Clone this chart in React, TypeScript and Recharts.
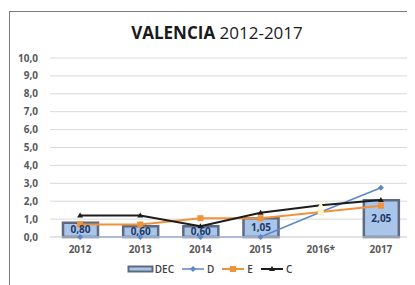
import React from "react";
import {
  ComposedChart,
  Bar,
  Line,
  XAxis,
  YAxis,
  CartesianGrid,
  Legend,
  LabelList,
} from "recharts";

const years = ["2012", "2013", "2014", "2015", "2016*", "2017"];
const decValues = [0.8, 0.6, 0.6, 1.05, null, 2.05];
const dValues = [0, 0, 0, 0, 1.4, 2.75];
const eValues = [0.7, 0.7, 1.05, 1.05, 1.4, 1.75];
const cValues = [1.2, 1.2, 0.6, 1.35, 1.77, 2.07];
const yTicks = [0, 1, 2, 3, 4, 5, 6, 7, 8, 9, 10];

const data = years.map((year, i) => ({
  year,
  DEC: decValues[i],
  D: dValues[i],
  E: eValues[i],
  C: cValues[i],
}));

const FONT = "'Open Sans', sans-serif";
const BLUE = "#5b87c8";
const ORANGE = "#f0923a";
const BLACK = "#1c1c1c";
const PALE = "#fbf3c9";

const comma = (v: number, d: number) => v.toFixed(d).replace(".", ",");

const isEstimate = (payload: any) => payload && payload.year === "2016*";

const diamond = (props: any) => {
  const { cx, cy, payload, index } = props;
  if (cx == null || cy == null) return <g key={index} />;
  const fill = isEstimate(payload) ? PALE : BLUE;
  return (
    <path
      key={index}
      d={`M${cx},${cy - 3}L${cx + 3},${cy}L${cx},${cy + 3}L${cx - 3},${cy}Z`}
      fill={fill}
    />
  );
};

const square = (props: any) => {
  const { cx, cy, payload, index } = props;
  if (cx == null || cy == null) return <g key={index} />;
  const fill = isEstimate(payload) ? PALE : ORANGE;
  return <rect key={index} x={cx - 3} y={cy - 3} width={6} height={6} fill={fill} />;
};

const triangle = (props: any) => {
  const { cx, cy, payload, index } = props;
  if (cx == null || cy == null) return <g key={index} />;
  const fill = isEstimate(payload) ? PALE : BLACK;
  return (
    <path
      key={index}
      d={`M${cx},${cy - 3}L${cx + 3},${cy + 2}L${cx - 3},${cy + 2}Z`}
      fill={fill}
    />
  );
};

const LegendContent = () => {
  const text = { fontSize: 10, color: "#404040", fontFamily: FONT, fontWeight: 600 };
  return (
    <div style={{ height: 24, paddingTop: 5, boxSizing: "border-box" }}>
      <div style={{ display: "flex", justifyContent: "center", alignItems: "center", height: 14 }}>
        <svg width={27} height={10}>
          <rect x={1.5} y={2.5} width={24} height={5} fill="#a9c5ea" stroke="#5e6a80" strokeWidth={2} />
        </svg>
        <span style={{ ...text, marginLeft: 1, marginRight: 8 }}>DEC</span>
        <svg width={22} height={10}>
          <line x1={0} y1={5} x2={22} y2={5} stroke={BLUE} strokeWidth={1.5} />
          <path d="M11,2L14,5L11,8L8,5Z" fill={BLUE} />
        </svg>
        <span style={{ ...text, marginLeft: 3, marginRight: 8 }}>D</span>
        <svg width={22} height={10}>
          <line x1={0} y1={5} x2={22} y2={5} stroke={ORANGE} strokeWidth={2} />
          <rect x={8} y={2} width={6} height={6} fill={ORANGE} />
        </svg>
        <span style={{ ...text, marginLeft: 3, marginRight: 8 }}>E</span>
        <svg width={22} height={10}>
          <line x1={0} y1={5} x2={22} y2={5} stroke={BLACK} strokeWidth={2} />
          <path d="M11,2L14,7L8,7Z" fill={BLACK} />
        </svg>
        <span style={{ ...text, marginLeft: 3 }}>C</span>
      </div>
    </div>
  );
};

export default function App() {
  return (
    <div style={{ position: "relative", width: 407, height: 277, overflow: "hidden" }}>
      <div
        style={{
          position: "absolute",
          left: 1,
          top: 3,
          width: 420,
          height: 300,
          borderTop: "1.5px solid #7a7a7a",
          borderLeft: "1.5px solid #7a7a7a",
        }}
      />
      <div
        style={{
          position: "absolute",
          left: 0,
          top: 14,
          width: 418,
          textAlign: "center",
          fontFamily: FONT,
          fontSize: 17,
          color: "#1a1a1a",
          lineHeight: "22px",
        }}
      >
        <span style={{ fontWeight: 700 }}>VALENCIA</span> 2012-2017
      </div>
      <div style={{ position: "absolute", left: 0, top: 0 }}>
        <ComposedChart
          width={407}
          height={277}
          data={data}
          margin={{ top: 50, right: 4, bottom: 4, left: 0 }}
          barSize={35}
        >
          <CartesianGrid vertical={false} stroke="#d9d9d9" strokeWidth={1} />
          <XAxis
            dataKey="year"
            axisLine={{ stroke: "#d9d9d9" }}
            tickLine={false}
            tickSize={0}
            tickMargin={9}
            height={20}
            tick={{ fontSize: 10, fill: "#595959", fontFamily: FONT, fontWeight: 700 }}
          />
          <YAxis
            width={42}
            domain={[0, 10]}
            ticks={yTicks}
            interval={0}
            axisLine={false}
            tickLine={false}
            tickSize={0}
            tickMargin={12}
            tickFormatter={(v: number) => comma(v, 1)}
            tick={{ fontSize: 10, fill: "#595959", fontFamily: FONT, fontWeight: 700 }}
          />
          <Legend verticalAlign="bottom" height={24} content={<LegendContent />} />
          <Bar
            dataKey="DEC"
            fill="#a9c5ea"
            stroke="#5e6a80"
            strokeWidth={2.5}
            isAnimationActive={false}
          >
            <LabelList
              dataKey="DEC"
              position="center"
              formatter={(v: any) => (v == null ? "" : comma(Number(v), 2))}
              style={{ fontSize: 10, fill: "#1f3864", fontFamily: FONT, fontWeight: 700 }}
            />
          </Bar>
          <Line
            dataKey="D"
            stroke={BLUE}
            strokeWidth={1.5}
            dot={diamond}
            activeDot={false}
            isAnimationActive={false}
          />
          <Line
            dataKey="E"
            stroke={ORANGE}
            strokeWidth={2}
            dot={square}
            activeDot={false}
            isAnimationActive={false}
          />
          <Line
            dataKey="C"
            stroke={BLACK}
            strokeWidth={2}
            dot={triangle}
            activeDot={false}
            isAnimationActive={false}
          />
        </ComposedChart>
      </div>
    </div>
  );
}
